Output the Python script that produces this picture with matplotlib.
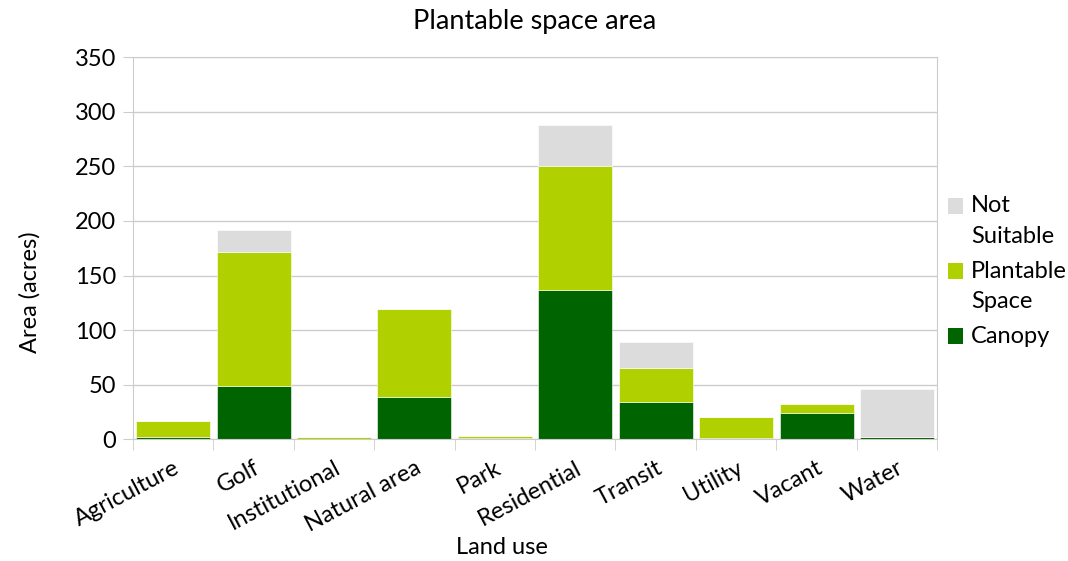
import numpy as np
import matplotlib.pyplot as plt
from matplotlib.patches import Rectangle

plt.rcParams['font.family'] = ['Lato', 'DejaVu Sans']

### DATA ###
land_use = ['Agriculture', 'Golf', 'Institutional', 'Natural area', 'Park',
            'Residential', 'Transit', 'Utility', 'Vacant', 'Water']
canopy = [2.5, 48.5, 0.5, 38.5, 1.5, 136.5, 34, 1, 24, 2]
plantable = [14, 123.5, 1.5, 80.5, 1.5, 113.5, 31, 19.5, 8, 0]
not_suitable = [0, 19.5, 0, 0, 0, 37.5, 24, 0, 0, 44]

series_names = [['Not', 'Suitable'], ['Plantable', 'Space'], ['Canopy']]
series_colors = ['#dcdcdc', '#b0d000', '#006400']

### PLOT ###
fig = plt.figure(figsize=(10.68, 5.61), dpi=100)
ax = fig.add_axes([0.1245, 0.217, 0.753, 0.681])

x = np.arange(len(land_use))
canopy = np.array(canopy)
plantable = np.array(plantable)
not_suitable = np.array(not_suitable)

ax.bar(x, canopy, width=0.92, color=series_colors[2], edgecolor='white', linewidth=0.4, zorder=2)
ax.bar(x, plantable, width=0.92, bottom=canopy, color=series_colors[1], edgecolor='white',
       linewidth=0.4, zorder=2)
ax.bar(x, not_suitable, width=0.92, bottom=canopy + plantable, color=series_colors[0],
       edgecolor='white', linewidth=0.4, zorder=2)

ax.set_xlim(-0.5, len(land_use) - 0.5)
ax.set_ylim(0, 350)
ax.set_yticks(np.arange(0, 351, 50))
ax.set_xticks(x)
ax.set_xticklabels(land_use, rotation=28, ha='right', rotation_mode='anchor', fontsize=17)
ax.tick_params(axis='y', labelsize=17, length=7, color='#cccccc', pad=5)
ax.tick_params(axis='x', length=0, pad=13)

# horizontal grid, tick marks between categories
ax.set_xticks(np.arange(-0.5, len(land_use), 1), minor=True)
ax.grid(axis='y', color='#cccccc', linewidth=1, zorder=0)
ax.tick_params(axis='x', which='minor', length=8, color='#cccccc')
ax.set_axisbelow(True)
for s in ax.spines.values():
    s.set_color('#cccccc')

ax.set_title('Plantable space area', fontsize=19.5, pad=20)
ax.set_xlabel('Land use', fontsize=17)
ax.xaxis.set_label_coords(0.459, -0.255)
ax.set_ylabel('Area (acres)', fontsize=17)
ax.yaxis.set_label_coords(-0.115, 0.385)

### LEGEND (drawn by hand so the swatch sits on the first line) ###
sq_x, sq_w, sq_h = 0.8876, 0.0145, 0.0275
txt_x = 0.909
line_h = 0.0545
y = 0.6328
for names, col in zip(series_names, series_colors):
    fig.add_artist(Rectangle((sq_x, y - sq_h / 2), sq_w, sq_h, transform=fig.transFigure,
                             color=col, linewidth=0))
    for i, n in enumerate(names):
        fig.text(txt_x, y - i * line_h, n, fontsize=17, va='center', ha='left')
    y -= len(names) * line_h + 0.007

fig.savefig('out.png', dpi=100)
